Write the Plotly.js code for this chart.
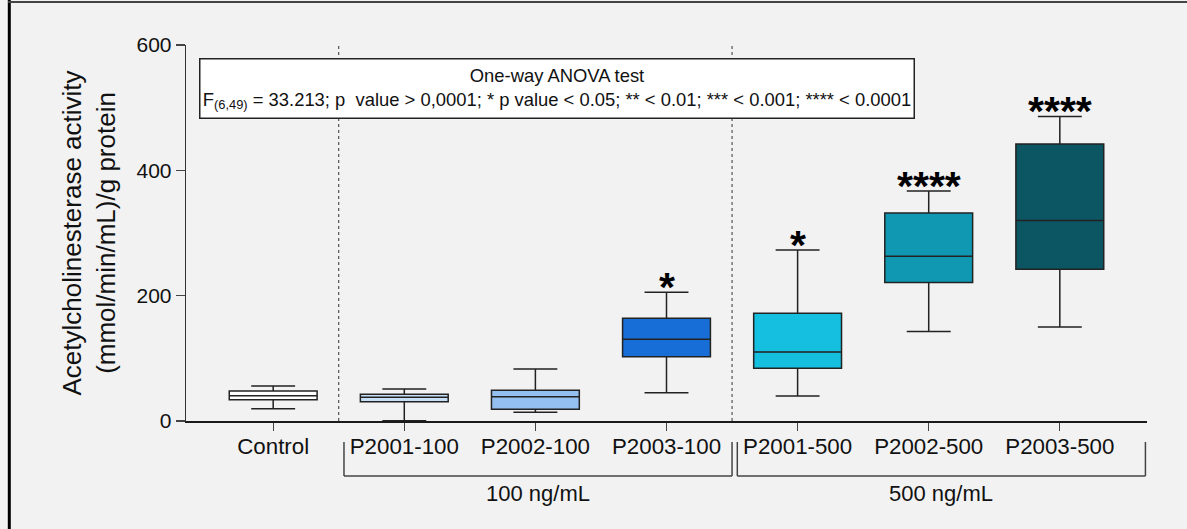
<!DOCTYPE html>
<html>
<head>
<meta charset="utf-8">
<script src="https://cdn.plot.ly/plotly-3.0.1.min.js"></script>
<style>
html,body{margin:0;padding:0;background:#f2f2f2;}
#chart{width:1187px;height:529px;}
</style>
</head>
<body>
<div id="chart"></div>
<script>
// ---- data ----
const categories = ['Control', 'P2001-100', 'P2002-100', 'P2003-100', 'P2001-500', 'P2002-500', 'P2003-500'];
const lowerWhisker = [19.7, 0.5, 13.9, 45.2, 40, 143, 150];
const q1Values = [34.0, 30.8, 18.6, 102.6, 84, 221, 242];
const medianValues = [40.4, 37.8, 38.8, 130.4, 110, 263, 320];
const q3Values = [47.9, 42.5, 49.0, 163.9, 172, 332, 442];
const upperWhisker = [55.9, 51, 83, 205.4, 273, 367, 486];
const significance = ['', '', '', '*', '*', '****', '****'];
const groupLabels = ['100 ng/mL', '500 ng/mL'];
const groupMembers = [['P2001-100', 'P2002-100', 'P2003-100'], ['P2001-500', 'P2002-500', 'P2003-500']];
const yTickValues = [0, 200, 400, 600];
const yTitle = 'Acetylcholinesterase activity<br>(mmol/min/mL)/g protein';
const statsText = 'One-way ANOVA test<br>F<sub>(6,49)</sub> = 33.213; p&nbsp; value &gt; 0,0001; * p value &lt; 0.05; ** &lt; 0.01; *** &lt; 0.001; **** &lt; 0.0001';

// ---- style ----
const fillColors = ['#ffffff', '#c8dff8', '#93bff1', '#176ed6', '#14bfdf', '#1098b3', '#0c5664'];
const FONT = 'Liberation Sans, Arial, sans-serif';
const xRange = [-0.665, 6.665];
const yRange = [0, 600];
const ink = '#1a1a1a';

const traces = categories.map((c, i) => ({
  type: 'box',
  x: [c],
  q1: [q1Values[i]],
  median: [medianValues[i]],
  q3: [q3Values[i]],
  lowerfence: [lowerWhisker[i]],
  upperfence: [upperWhisker[i]],
  fillcolor: fillColors[i],
  line: {color: '#222', width: 1.5},
  width: 0.67,
  whiskerwidth: 0.5,
  boxpoints: false,
  hoverinfo: 'skip',
  showlegend: false
}));

const annotations = [];
categories.forEach((c, i) => {
  if (significance[i]) {
    annotations.push({
      x: c, y: upperWhisker[i], xref: 'x', yref: 'y',
      text: '<b>' + significance[i] + '</b>',
      showarrow: false, yanchor: 'bottom', yshift: -20,
      font: {family: FONT, size: 41, color: '#000'}
    });
  }
});

// px->paper helpers derived from plot geometry
const W = 1187, H = 529, ML = 186, MR = 40, MT = 45, MB = 108;
const pw = W - ML - MR, ph = H - MT - MB;
const px = v => (v - ML) / pw;
const py = v => (H - MB - v) / ph;

annotations.push({
  xref: 'paper', yref: 'paper', x: px(199), y: py(58), xanchor: 'left', yanchor: 'top',
  text: statsText, showarrow: false, align: 'center',
  width: 711, height: 56, borderpad: 1,
  bgcolor: '#ffffff', bordercolor: '#222', borderwidth: 1.5,
  font: {family: FONT, size: 18.4, color: '#111'}
});

const shapes = [];
groupMembers.forEach((members, g) => {
  const first = categories.indexOf(members[0]);
  const last = categories.indexOf(members[members.length - 1]);
  shapes.push({type: 'line', xref: 'x', yref: 'y', x0: first - 0.5, x1: first - 0.5, y0: yRange[0], y1: yRange[1],
    line: {color: '#333', width: 1, dash: 'dot'}});
  const left = first - 0.46;
  const right = (g === groupMembers.length - 1) ? xRange[1] - 0.012 : last + 0.5;
  const yTop = py(442), yBot = py(476);
  const bl = {color: '#444', width: 1.5};
  shapes.push({type: 'line', xref: 'x', yref: 'paper', x0: left, x1: left, y0: yTop, y1: yBot, line: bl});
  shapes.push({type: 'line', xref: 'x', yref: 'paper', x0: left, x1: right, y0: yBot, y1: yBot, line: bl});
  shapes.push({type: 'line', xref: 'x', yref: 'paper', x0: right, x1: right, y0: yTop, y1: yBot, line: bl});
  annotations.push({
    xref: 'x', yref: 'paper', x: (left + right) / 2, y: py(493), text: groupLabels[g],
    showarrow: false, xanchor: 'center', yanchor: 'middle',
    font: {family: FONT, size: 22, color: '#111'}
  });
});

// outer frame (left and top edges visible in the original crop)
shapes.push({type: 'line', xref: 'paper', yref: 'paper', x0: px(9.3), x1: px(9.3), y0: py(H + 5), y1: py(0),
  line: {color: '#000', width: 3}});
shapes.push({type: 'line', xref: 'paper', yref: 'paper', x0: px(8), x1: px(W + 5), y0: py(2), y1: py(2),
  line: {color: '#444', width: 2}});

const catIdx = categories.map((_, i) => i);

const layout = {
  width: W, height: H,
  margin: {l: ML, r: MR, t: MT, b: MB, pad: 0},
  paper_bgcolor: '#f2f2f2', plot_bgcolor: '#f2f2f2',
  font: {family: FONT, color: '#111'},
  showlegend: false,
  boxmode: 'overlay',
  xaxis: {
    type: 'category', categoryorder: 'array', categoryarray: categories,
    range: xRange, showline: true, linecolor: ink, linewidth: 1.5,
    ticks: 'outside', ticklen: 8, tickwidth: 1.3, tickcolor: '#444',
    ticklabelstandoff: -3,
    tickfont: {family: FONT, size: 22.3, color: '#111'},
    showgrid: false, zeroline: false, fixedrange: true
  },
  yaxis: {
    range: yRange, tickmode: 'array', tickvals: yTickValues,
    showline: true, linecolor: '#333', linewidth: 1.3,
    ticks: 'outside', ticklen: 9, tickwidth: 1.3, tickcolor: '#444',
    tickfont: {family: FONT, size: 21, color: '#111'},
    showgrid: false, zeroline: false, fixedrange: true,
    title: {text: yTitle, font: {family: FONT, size: 26, color: '#111'}, standoff: 13}
  },
  xaxis2: {
    overlaying: 'x', anchor: 'y', side: 'top', range: xRange,
    tickmode: 'array', tickvals: catIdx, showticklabels: false,
    ticks: 'inside', ticklen: 8, tickwidth: 1.3, tickcolor: '#444',
    showline: true, linecolor: ink, linewidth: 1.5,
    showgrid: false, zeroline: false, fixedrange: true
  },
  yaxis2: {
    overlaying: 'y', anchor: 'x', side: 'right', range: yRange,
    tickmode: 'array', tickvals: yTickValues, showticklabels: false,
    ticks: 'inside', ticklen: 8, tickwidth: 1.3, tickcolor: '#444',
    showline: true, linecolor: ink, linewidth: 1.5,
    showgrid: false, zeroline: false, fixedrange: true
  },
  shapes: shapes,
  annotations: annotations
};

Plotly.newPlot('chart', traces, layout, {displayModeBar: false, staticPlot: true});
</script>
</body>
</html>
